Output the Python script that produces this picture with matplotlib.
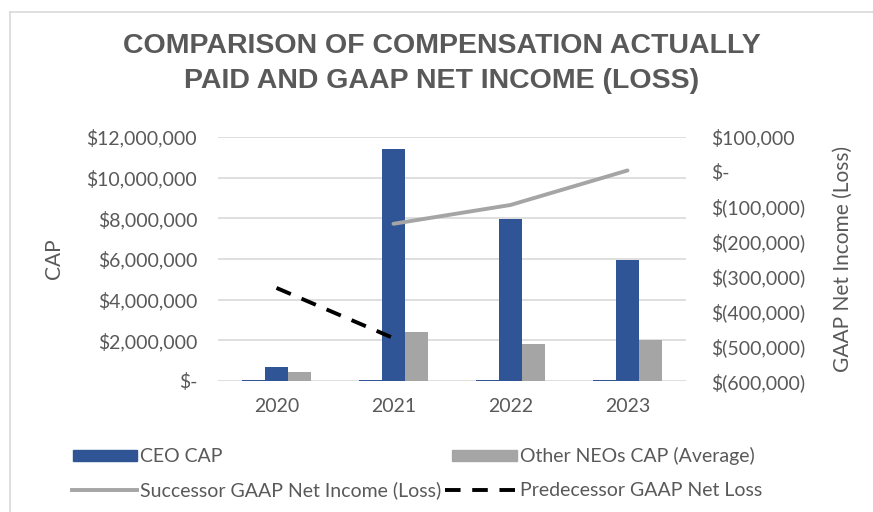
import matplotlib
matplotlib.use("Agg")
import matplotlib.pyplot as plt
from matplotlib.patches import Rectangle
from matplotlib.lines import Line2D
import numpy as np

years = ["2020", "2021", "2022", "2023"]
hidden_cap = [50000, 50000, 50000, 50000]
ceo_cap = [700000, 11400000, 7950000, 5950000]
neo_cap = [460000, 2410000, 1820000, 2030000]
successor_ni = [None, -149000, -95000, 4000]
predecessor_nl = [-333000, -477000, None, None]

left_ticks = [0, 2e6, 4e6, 6e6, 8e6, 10e6, 12e6]
left_labels = ["$-", "$2,000,000", "$4,000,000", "$6,000,000", "$8,000,000", "$10,000,000", "$12,000,000"]
right_ticks = [-600000, -500000, -400000, -300000, -200000, -100000, 0, 100000]
right_labels = ["$(600,000)", "$(500,000)", "$(400,000)", "$(300,000)", "$(200,000)", "$(100,000)", "$-", "$100,000"]

BLUE = "#2F5597"
GRAY = "#A5A5A5"
TXT = "#595959"
W, H = 873, 512
FONT = "Lato"
FS = 14

fig = plt.figure(figsize=(W / 100, H / 100), dpi=100)
fig.patch.set_facecolor("white")

# frame
fig.add_artist(Line2D([10 / W, 10 / W], [0, 1 - 12 / H], color="#D9D9D9", lw=1.2, transform=fig.transFigure))
fig.add_artist(Line2D([10 / W, 1], [1 - 12 / H, 1 - 12 / H], color="#D9D9D9", lw=1.2, transform=fig.transFigure))

ax = fig.add_axes([218 / W, 1 - 381 / H, 468 / W, 244 / H])
x = np.arange(len(years))
bw = 0.197
ax.bar(x - bw, hidden_cap, bw, color=BLUE, zorder=2)
ax.bar(x, ceo_cap, bw, color=BLUE, zorder=2)
ax.bar(x + bw, neo_cap, bw, color=GRAY, zorder=2)
ax.set_xlim(-0.5, 3.5)
ax.set_ylim(0, 12e6)
ax.set_yticks(left_ticks)
ax.set_yticklabels(left_labels, fontsize=FS, color=TXT, family=FONT)
ax.set_xticks(x)
ax.set_xticklabels(years, fontsize=FS, color=TXT, family=FONT)
ax.tick_params(axis="y", length=0, pad=15)
ax.tick_params(axis="x", length=0, pad=12)
ax.grid(axis="y", color="#D9D9D9", lw=1.2, zorder=0)
for s in ax.spines.values():
    s.set_visible(False)
ax.set_ylabel("CAP", fontsize=15, color=TXT, family=FONT, labelpad=16)

ax2 = ax.twinx()
ax2.set_ylim(-600000, 100000)
sx = [i for i, v in enumerate(successor_ni) if v is not None]
sy = [v for v in successor_ni if v is not None]
px = [i for i, v in enumerate(predecessor_nl) if v is not None]
py = [v for v in predecessor_nl if v is not None]
ax2.plot(sx, sy, color=GRAY, lw=2.8, solid_capstyle="round", zorder=3)
ax2.plot(px, py, color="black", lw=2.8, linestyle=(0, (4, 3)), zorder=3)
ax2.set_yticks(right_ticks)
ax2.set_yticklabels(right_labels, fontsize=FS, color=TXT, family=FONT)
ax2.tick_params(axis="y", length=0, pad=18)
for s in ax2.spines.values():
    s.set_visible(False)
ax2.set_ylabel("GAAP Net Income (Loss)", fontsize=15, color=TXT, family=FONT, labelpad=20)

TFAM = ["Liberation Sans"]
fig.text(442 / W, 1 - 46 / H, "COMPARISON OF COMPENSATION ACTUALLY", ha="center", va="center",
         fontsize=20.5, fontweight="bold", color=TXT, family=TFAM)
fig.text(442 / W, 1 - 81 / H, "PAID AND GAAP NET INCOME (LOSS)", ha="center", va="center",
         fontsize=20.5, fontweight="bold", color=TXT, family=TFAM)

# legend
def fx(px_):
    return px_ / W
def fy(py_):
    return 1 - py_ / H

fig.add_artist(Rectangle((fx(73), fy(461)), 64 / W, 11 / H, color=BLUE, transform=fig.transFigure))
fig.text(fx(140), fy(456), "CEO CAP", fontsize=FS, color=TXT, family=FONT, va="center")
fig.add_artist(Rectangle((fx(452), fy(461)), 65 / W, 11 / H, color=GRAY, transform=fig.transFigure))
fig.text(fx(520), fy(456), "Other NEOs CAP (Average)", fontsize=FS, color=TXT, family=FONT, va="center")
fig.add_artist(Line2D([fx(72), fx(137)], [fy(490), fy(490)], color=GRAY, lw=2.8, transform=fig.transFigure))
fig.text(fx(140), fy(490), "Successor GAAP Net Income (Loss)", fontsize=FS, color=TXT, family=FONT, va="center")
fig.add_artist(Line2D([fx(445), fx(517)], [fy(490), fy(490)], color="black", lw=2.8,
                      linestyle=(0, (4, 3)), transform=fig.transFigure))
fig.text(fx(520), fy(490), "Predecessor GAAP Net Loss", fontsize=FS, color=TXT, family=FONT, va="center")

fig.savefig("out.png", dpi=100)
